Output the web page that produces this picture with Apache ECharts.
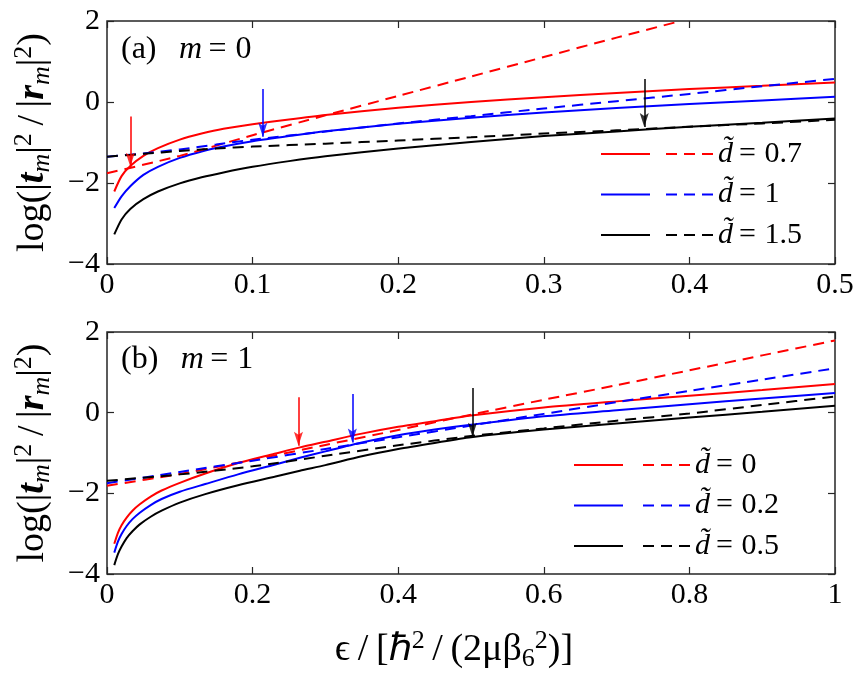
<!DOCTYPE html>
<html>
<head>
<meta charset="utf-8">
<script src="https://cdn.jsdelivr.net/npm/echarts@6/dist/echarts.min.js"></script>
<style>html,body{margin:0;padding:0;background:#fff}#c{width:865px;height:678px}</style>
</head>
<body>
<div id="c"></div>
<script>
// ---------- Panel (a): m = 0 ----------
const xTicksA = [0, 0.1, 0.2, 0.3, 0.4, 0.5];
const yTicks = [-4, -2, 0, 2];
const xSolidA = [0.005,0.01,0.016,0.025,0.035,0.05,0.065,0.08,0.1,0.125,0.15,0.2,0.25,0.3,0.35,0.4,0.45,0.5];
const redSolidA   = [-2.21,-1.83,-1.58,-1.33,-1.14,-0.93,-0.78,-0.66,-0.55,-0.43,-0.32,-0.14,0.0,0.12,0.22,0.32,0.40,0.48];
const blueSolidA  = [-2.62,-2.33,-2.08,-1.80,-1.60,-1.38,-1.22,-1.10,-0.97,-0.84,-0.72,-0.54,-0.39,-0.26,-0.15,-0.05,0.04,0.13];
const blackSolidA = [-3.27,-2.90,-2.64,-2.40,-2.21,-2.01,-1.86,-1.74,-1.60,-1.46,-1.34,-1.15,-0.99,-0.84,-0.73,-0.61,-0.51,-0.41];
const xRedDashedA = [0,0.05,0.1,0.15,0.2,0.25,0.3,0.35,0.394];
const redDashedA  = [-1.76,-1.33,-0.82,-0.33,0.15,0.63,1.11,1.59,2.0];
const xDashedA = [0,0.025,0.05,0.075,0.1,0.15,0.2,0.25,0.3,0.35,0.4,0.45,0.5];
const blueDashedA  = [-1.35,-1.27,-1.17,-1.05,-0.93,-0.73,-0.53,-0.35,-0.16,0.02,0.20,0.39,0.57];
const blackDashedA = [-1.35,-1.28,-1.21,-1.15,-1.10,-1.03,-0.95,-0.87,-0.78,-0.70,-0.61,-0.53,-0.44];
// arrows: x, start value, tip value
const arrowXA   = [0.016, 0.107, 0.369];
const arrowTopA = [-0.36, 0.32, 0.57];
const arrowTipA = [-1.60, -0.86, -0.62];
const legendLabelsA = ['0.7', '1', '1.5'];

// ---------- Panel (b): m = 1 ----------
const xTicksB = [0, 0.2, 0.4, 0.6, 0.8, 1];
const xSolidB = [0.01,0.015,0.02,0.027,0.035,0.045,0.06,0.075,0.1,0.135,0.18,0.23,0.265,0.3,0.35,0.4,0.45,0.5,0.6,0.7,0.8,0.9,1.0];
const redSolidB   = [-3.25,-2.98,-2.79,-2.60,-2.43,-2.27,-2.08,-1.93,-1.74,-1.51,-1.25,-1.02,-0.86,-0.72,-0.52,-0.35,-0.21,-0.07,0.13,0.28,0.42,0.56,0.71];
const blueSolidB  = [-3.47,-3.20,-3.01,-2.81,-2.64,-2.48,-2.29,-2.14,-1.96,-1.77,-1.53,-1.29,-1.12,-0.96,-0.74,-0.56,-0.42,-0.30,-0.09,0.06,0.21,0.35,0.49];
const blackSolidB = [-3.78,-3.51,-3.32,-3.11,-2.94,-2.77,-2.58,-2.43,-2.23,-2.02,-1.80,-1.59,-1.44,-1.30,-1.08,-0.90,-0.75,-0.61,-0.42,-0.27,-0.12,0.02,0.17];
const xDashedB = [0,0.1,0.2,0.3,0.4,0.5,0.6,0.7,0.8,0.9,1.0];
const redDashedB   = [-1.81,-1.52,-1.17,-0.80,-0.43,-0.05,0.32,0.68,1.05,1.42,1.79];
const blueDashedB  = [-1.75,-1.47,-1.19,-0.90,-0.61,-0.32,-0.03,0.26,0.54,0.82,1.10];
const blackDashedB = [-1.69,-1.53,-1.33,-1.07,-0.81,-0.58,-0.39,-0.20,-0.02,0.19,0.40];
const arrowXB   = [0.263, 0.337, 0.502];
const arrowTopB = [0.38, 0.46, 0.61];
const arrowTipB = [-0.82, -0.74, -0.60];
const legendLabelsB = ['0', '0.2', '0.5'];

const colors = ['#ff0000', '#0000ff', '#000000'];
const FONT = 'Liberation Serif';
const FRAME = '#262626';

function pts(xs, ys) { return xs.map((x, i) => [x, ys[i]]); }
function curve(name, xs, ys, color, dashed, g) {
  return {
    type: 'line', name, xAxisIndex: g * 2, yAxisIndex: g * 2,
    data: pts(xs, ys), symbol: 'none', showSymbol: false,
    smooth: 0.25, clip: true,
    lineStyle: { color, width: 2, type: dashed ? [11, 7] : 'solid' },
    itemStyle: { color }, emphasis: { disabled: true }, z: 3
  };
}
function arrows(xs, tops, tips, g) {
  return {
    type: 'scatter', name: 'arrows' + g, xAxisIndex: g * 2, yAxisIndex: g * 2,
    symbol: 'path://M0,0 L5,3 L10,0 L5,14 Z', symbolSize: [9, 14], symbolOffset: [0, '-50%'],
    data: xs.map((x, i) => ({ value: [x, tips[i]], itemStyle: { color: colors[i] } })),
    silent: true, z: 5,
    markLine: {
      silent: true, symbol: ['none', 'none'], label: { show: false },
      lineStyle: { width: 1.5, type: 'solid' }, animation: false,
      data: xs.map((x, i) => [{ coord: [x, tops[i]], lineStyle: { color: colors[i], width: 1.5, type: 'solid' } }, { coord: [x, tips[i]] }])
    }
  };
}
function fmt(v) {
  const r = parseFloat(Number(v).toFixed(2));
  return r < 0 ? '\u2212' + (-r) : String(r);
}
const richName = {
  n: { fontSize: 38, fontFamily: FONT, color: '#000', lineHeight: 44 },
  b: { fontSize: 38, fontFamily: FONT, color: '#000', fontStyle: 'italic', fontWeight: 'bold', lineHeight: 44 },
  s: { fontSize: 26, fontFamily: FONT, color: '#000', fontStyle: 'italic', lineHeight: 24, verticalAlign: 'bottom' },
  p: { fontSize: 26, fontFamily: FONT, color: '#000', lineHeight: 24, verticalAlign: 'top' },
  t: { fontSize: 26, fontFamily: FONT, color: '#000', lineHeight: 24, verticalAlign: 'bottom' }
};
const yName = '{n|log(|}{b|t}{s|m}{n||}{p|2}{n|\u2009/\u2009|}{b|r}{s|m}{n||}{p|2}{n|)}';
const xName = '{n|\u03f5\u2009/\u2009[\u210f}{p|2}{n|\u2009/\u2009(2\u03bc\u03b2}{t|6}{p|2}{n|)]}';

function xAx(g, ticks, withName) {
  const base = {
    type: 'value', gridIndex: g, min: ticks[0], max: ticks[ticks.length - 1],
    interval: ticks[1] - ticks[0], splitLine: { show: false },
    axisLine: { show: false, onZero: false },
    axisTick: { show: true, inside: true, length: 7, lineStyle: { color: FRAME, width: 1.2 } }
  };
  const bottom = Object.assign({}, base, {
    position: 'bottom',
    axisLabel: { show: true, fontSize: 30, fontFamily: FONT, color: '#000', margin: 6, formatter: fmt }
  });
  if (withName) {
    Object.assign(bottom, { name: xName, nameLocation: 'middle', nameGap: 54,
      nameTextStyle: { rich: richName, padding: [0, 34, 0, 0] } });
  }
  const top = Object.assign({}, base, { position: 'top', axisLabel: { show: false } });
  return [bottom, top];
}
function yAx(g) {
  const base = {
    type: 'value', gridIndex: g, min: yTicks[0], max: yTicks[yTicks.length - 1], interval: 2, splitLine: { show: false },
    axisLine: { show: false, onZero: false },
    axisTick: { show: true, inside: true, length: 7, lineStyle: { color: FRAME, width: 1.2 } }
  };
  const left = Object.assign({}, base, {
    position: 'left',
    axisLabel: { show: true, fontSize: 30, fontFamily: FONT, color: '#000', margin: 7, formatter: fmt },
    name: yName, nameLocation: 'middle', nameRotate: 90, nameGap: 52, nameTextStyle: { rich: richName }
  });
  const right = Object.assign({}, base, { position: 'right', axisLabel: { show: false } });
  return [left, right];
}

const legendRich = {
  i: { fontStyle: 'italic', fontSize: 30, fontFamily: FONT, color: '#000', lineHeight: 34 }
};
const titleRich = {
  i: { fontStyle: 'italic', fontSize: 32, fontFamily: FONT, color: '#000', lineHeight: 36 }
};
function legends(names, labels, left1, left2, top) {
  const solidNames = names.map(n => n + 's');
  const dashNames = names.map(n => n + 'd');
  const map = {};
  dashNames.forEach((n, i) => { map[n] = '{i|d\u0303}\u2009=\u2009\u200a' + labels[i]; });
  const common = {
    orient: 'vertical', top, itemHeight: 34, itemGap: 6.5, padding: 0, selectedMode: false,
    itemStyle: { opacity: 0, color: 'rgba(0,0,0,0)', borderWidth: 0 },
    textStyle: { fontSize: 30, fontFamily: FONT, color: '#000', lineHeight: 34, rich: legendRich }
  };
  return [
    Object.assign({}, common, { data: solidNames, left: left1, itemWidth: 49, formatter: () => ' ' }),
    Object.assign({}, common, { data: dashNames, left: left2, itemWidth: 47, formatter: n => map[n] })
  ];
}

const [xa0, xa1] = xAx(0, xTicksA, false);
const [xb0, xb1] = xAx(1, xTicksB, true);
const [ya0, ya1] = yAx(0);
const [yb0, yb1] = yAx(1);

const titleStyle = { fontSize: 32, fontFamily: FONT, fontWeight: 'normal', color: '#000', lineHeight: 36, rich: titleRich };
const option = {
  animation: false,
  backgroundColor: '#ffffff',
  title: [
    { text: '(a)\u2002\u2009{i|m}\u2009=\u2009\u200a0', left: 121, top: 32, padding: 0, textStyle: titleStyle },
    { text: '(b)\u2002\u2009{i|m}\u2009=\u2009\u200a1', left: 121, top: 342, padding: 0, textStyle: titleStyle }
  ],
  grid: [
    { left: 107, right: 30, top: 21, height: 243, show: true, borderColor: FRAME, borderWidth: 1.5, backgroundColor: 'transparent' },
    { left: 107, right: 30, top: 332, height: 242, show: true, borderColor: FRAME, borderWidth: 1.5, backgroundColor: 'transparent' }
  ],
  xAxis: [xa0, xa1, xb0, xb1],
  yAxis: [ya0, ya1, yb0, yb1],
  legend: [
    ...legends(['ra', 'ba', 'ka'], legendLabelsA, 600, 665, 137),
    ...legends(['rb', 'bb', 'kb'], legendLabelsB, 573, 642, 448)
  ],
  series: [
    curve('ras', xSolidA, redSolidA, colors[0], false, 0),
    curve('bas', xSolidA, blueSolidA, colors[1], false, 0),
    curve('kas', xSolidA, blackSolidA, colors[2], false, 0),
    curve('rad', xRedDashedA, redDashedA, colors[0], true, 0),
    curve('bad', xDashedA, blueDashedA, colors[1], true, 0),
    curve('kad', xDashedA, blackDashedA, colors[2], true, 0),
    arrows(arrowXA, arrowTopA, arrowTipA, 0),
    curve('rbs', xSolidB, redSolidB, colors[0], false, 1),
    curve('bbs', xSolidB, blueSolidB, colors[1], false, 1),
    curve('kbs', xSolidB, blackSolidB, colors[2], false, 1),
    curve('rbd', xDashedB, redDashedB, colors[0], true, 1),
    curve('bbd', xDashedB, blueDashedB, colors[1], true, 1),
    curve('kbd', xDashedB, blackDashedB, colors[2], true, 1),
    arrows(arrowXB, arrowTopB, arrowTipB, 1)
  ]
};
const chart = echarts.init(document.getElementById('c'), null, { renderer: 'canvas' });
chart.setOption(option);
</script>
</body>
</html>
